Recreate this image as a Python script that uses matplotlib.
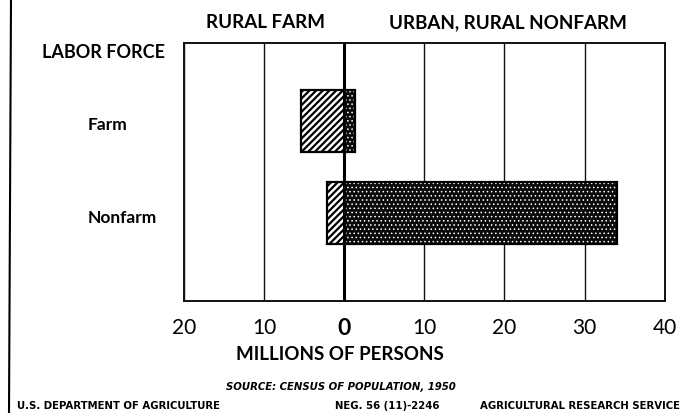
import numpy as np
import matplotlib
matplotlib.use('Agg')
import matplotlib.pyplot as plt
from matplotlib.lines import Line2D

# Labor force by residence, 1950 (millions of persons)
categories = ['Farm', 'Nonfarm']
rural_farm = [5.4, 2.1]         # drawn to the left of zero
urban_rural_nonfarm = [1.3, 34.0]  # drawn to the right of zero
tick_values = [-20, -10, 0, 10, 20, 30, 40]
tick_labels = ['20', '10', '0', '10', '20', '30', '40']

head_font = ['Lato', 'DejaVu Sans']
small_font = ['DejaVu Sans']

fig = plt.figure(figsize=(6.91, 4.14), dpi=100, facecolor='white')
ax = fig.add_axes([0.266, 0.271, 0.696, 0.623])

ypos = np.arange(len(categories))
h = 0.67

# left portion: diagonal hatch, black on white
plt.rcParams['hatch.linewidth'] = 1.6
left_bars = ax.barh(ypos, [-v for v in rural_farm], height=h, color='white',
                    edgecolor='black', hatch='/////', linewidth=0, zorder=3)
# right portion: black with fine white stipple
plt.rcParams['hatch.linewidth'] = 0.6
right_bars = ax.barh(ypos, urban_rural_nonfarm, height=h, color='#0a0a0a',
                     edgecolor='white', hatch='....', linewidth=0, zorder=3)
for p in left_bars:
    if hasattr(p, 'set_hatch_linewidth'):
        p.set_hatch_linewidth(1.6)
for p in right_bars:
    if hasattr(p, 'set_hatch_linewidth'):
        p.set_hatch_linewidth(0.6)
# outlines
lefts = [-v for v in rural_farm]
widths = [a + b for a, b in zip(rural_farm, urban_rural_nonfarm)]
ax.barh(ypos, widths, left=lefts, height=h, fill=False,
        edgecolor='black', linewidth=1.6, zorder=4)

ax.set_xlim(-20, 40)
ax.set_ylim(1.95, -0.84)
ax.set_yticks([])
ax.set_xticks(tick_values)
ax.set_xticklabels(tick_labels, fontsize=15, family=head_font)
for lab in ax.get_xticklabels():
    if lab.get_text() == '0':
        lab.set_fontweight('bold')
        lab.set_fontsize(16.5)
ax.tick_params(axis='x', length=0, pad=12)
ax.grid(axis='x', color='#111111', linewidth=1.0, zorder=1)
ax.axvline(0, color='black', linewidth=2.2, zorder=5)
for s in ax.spines.values():
    s.set_linewidth(1.4)
    s.set_color('#111111')

# category labels
for y, name in zip(ypos, categories):
    ax.text(-0.2, y + 0.04, name, transform=ax.get_yaxis_transform(),
            fontsize=12.5, fontweight='bold', family=head_font,
            ha='left', va='center')

fig.text(104 / 691, 1 - 53 / 414, 'LABOR FORCE', fontsize=13, fontweight='bold',
         family=head_font, ha='center', va='center')
fig.text(266 / 691, 1 - 23 / 414, 'RURAL FARM', fontsize=13.5, fontweight='bold',
         family=head_font, ha='center', va='center')
fig.text(508 / 691, 1 - 23 / 414, 'URBAN, RURAL NONFARM', fontsize=13.5,
         fontweight='bold', family=head_font, ha='center', va='center')
fig.text(340 / 691, 1 - 355 / 414, 'MILLIONS OF PERSONS', fontsize=13.5,
         fontweight='bold', family=head_font, ha='center', va='center')

fig.text(341 / 691, 1 - 387 / 414, 'SOURCE: CENSUS OF POPULATION, 1950',
         fontsize=7.3, fontweight='bold', style='italic', family=small_font,
         ha='center', va='center')
fig.text(17 / 691, 1 - 406 / 414, 'U.S. DEPARTMENT OF AGRICULTURE',
         fontsize=7.3, fontweight='bold', family=small_font, ha='left', va='center')
fig.text(335 / 691, 1 - 406 / 414, 'NEG. 56 (11)-2246',
         fontsize=7.3, fontweight='bold', family=small_font, ha='left', va='center')
fig.text(680 / 691, 1 - 406 / 414, 'AGRICULTURAL RESEARCH SERVICE',
         fontsize=7.3, fontweight='bold', family=small_font, ha='right', va='center')

# page edge at left
fig.add_artist(Line2D([11 / 691, 9 / 691], [1, 0], transform=fig.transFigure,
                      color='black', linewidth=1.5))

fig.savefig('out.png', dpi=100, facecolor='white')
